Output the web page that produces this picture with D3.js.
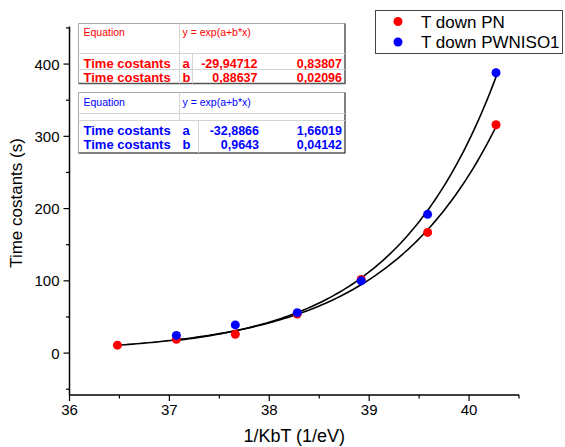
<!DOCTYPE html>
<html>
<head>
<meta charset="utf-8">
<script src="https://cdn.jsdelivr.net/npm/d3@7"></script>
<style>
  html, body { margin: 0; padding: 0; background: #fff; }
  svg { display: block; font-family: "Liberation Sans", Arial, sans-serif; }
</style>
</head>
<body>
<svg id="chart" width="565" height="447"></svg>
<script>
// ---- data ----
const xPN = [36.48, 37.07, 37.66, 38.28, 38.92, 39.585, 40.27];
const yPN = [11, 19, 26, 54, 102, 167, 316];
const xPW = [37.07, 37.66, 38.28, 38.92, 39.585, 40.27];
const yPW = [24.5, 39, 56, 100, 192, 388];
const fitPN = { a: -29.94712, b: 0.88637 };
const fitPW = { a: -32.8866, b: 0.9643 };
const xTicks = [36, 37, 38, 39, 40];
const yTicks = [0, 100, 200, 300, 400];
const seriesNames = ["T down PN", "T down PWNISO1"];
const seriesColors = ["#ff0000", "#0000ff"];
const tablePN = [
  ["Time costants", "a", "-29,94712", "0,83807"],
  ["Time costants", "b", "0,88637", "0,02096"]
];
const tablePW = [
  ["Time costants", "a", "-32,8866", "1,66019"],
  ["Time costants", "b", "0,9643", "0,04142"]
];

const svg = d3.select("#chart");
const x = d3.scaleLinear().domain([36, 40.5]).range([69.5, 519]);
const y = d3.scaleLinear().domain([-58, 452]).range([395, 26.5]);

// axes
const xAxis = svg.append("g").attr("transform", "translate(0,395)");
xAxis.append("line").attr("x1", x(36)).attr("x2", x(40.5)).attr("stroke", "#000").attr("stroke-width", 1.5);
xAxis.selectAll(".xmin").data(d3.range(36.5, 40.51, 1)).enter().append("line")
  .attr("x1", d => x(d)).attr("x2", d => x(d)).attr("y1", 0).attr("y2", 3.5)
  .attr("stroke", "#000").attr("stroke-width", 1.2);
xAxis.selectAll(".xmaj").data(xTicks).enter().append("line")
  .attr("x1", d => x(d)).attr("x2", d => x(d)).attr("y1", 0).attr("y2", 6)
  .attr("stroke", "#000").attr("stroke-width", 1.2);
xAxis.selectAll(".xlab").data(xTicks).enter().append("text")
  .attr("x", d => x(d)).attr("y", 20).attr("text-anchor", "middle")
  .attr("font-size", 15).text(d => d);

const yAxis = svg.append("g").attr("transform", "translate(69.5,0)");
yAxis.append("line").attr("y1", y(-58)).attr("y2", y(452)).attr("stroke", "#000").attr("stroke-width", 1.5);
yAxis.selectAll(".ymin").data(d3.range(-50, 452, 100)).enter().append("line")
  .attr("y1", d => y(d)).attr("y2", d => y(d)).attr("x1", 0).attr("x2", -3.5)
  .attr("stroke", "#000").attr("stroke-width", 1.2);
yAxis.selectAll(".ymaj").data(yTicks).enter().append("line")
  .attr("y1", d => y(d)).attr("y2", d => y(d)).attr("x1", 0).attr("x2", -6)
  .attr("stroke", "#000").attr("stroke-width", 1.2);
yAxis.selectAll(".ylab").data(yTicks).enter().append("text")
  .attr("x", -10).attr("y", d => y(d) + 5.5).attr("text-anchor", "end")
  .attr("font-size", 15).text(d => d);

svg.append("text").attr("x", x(38.25)).attr("y", 442).attr("text-anchor", "middle")
  .attr("font-size", 18).text("1/KbT (1/eV)");
svg.append("text").attr("transform", "translate(22,203) rotate(-90)").attr("text-anchor", "middle")
  .attr("font-size", 17).text("Time costants (s)");

// fit curves
const line = d3.line().x(d => x(d[0])).y(d => y(d[1])).curve(d3.curveLinear);
function fitPts(fit, x0, x1) {
  return d3.range(0, 101).map(i => { const xv = x0 + (x1 - x0) * i / 100; return [xv, Math.exp(fit.a + fit.b * xv)]; });
}
svg.append("path").attr("d", line(fitPts(fitPN, xPN[0], xPN[xPN.length - 1])))
  .attr("fill", "none").attr("stroke", "#000").attr("stroke-width", 1.6);
svg.append("path").attr("d", line(fitPts(fitPW, xPW[0], xPW[xPW.length - 1])))
  .attr("fill", "none").attr("stroke", "#000").attr("stroke-width", 1.6);

// points
svg.selectAll(".pn").data(xPN.map((v, i) => [v, yPN[i]])).enter().append("circle")
  .attr("cx", d => x(d[0])).attr("cy", d => y(d[1])).attr("r", 4.5).attr("fill", seriesColors[0]);
svg.selectAll(".pw").data(xPW.map((v, i) => [v, yPW[i]])).enter().append("circle")
  .attr("cx", d => x(d[0])).attr("cy", d => y(d[1])).attr("r", 4.5).attr("fill", seriesColors[1]);

// legend
const lg = svg.append("g");
lg.append("rect").attr("x", 375.5).attr("y", 10.5).attr("width", 187).attr("height", 43)
  .attr("fill", "#fff").attr("stroke", "#444").attr("stroke-width", 1);
seriesNames.forEach((n, i) => {
  lg.append("circle").attr("cx", 398).attr("cy", 21.5 + i * 20.5).attr("r", 4.5).attr("fill", seriesColors[i]);
  lg.append("text").attr("x", 421).attr("y", 27.5 + i * 20.5).attr("font-size", 17).text(n);
});

// tables
function drawTable(rows, color, t) {
  const g = svg.append("g");
  const light = "#d4d4d4";
  g.append("rect").attr("x", t.x0).attr("y", t.y0).attr("width", t.x1 - t.x0).attr("height", t.y1 - t.y0)
    .attr("fill", "#fff").attr("stroke", "none");
  const L = (x1, y1, x2, y2, c, w) => g.append("line").attr("x1", x1).attr("y1", y1).attr("x2", x2).attr("y2", y2)
    .attr("stroke", c).attr("stroke-width", w || 1);
  L(t.x0, t.y0, t.x1, t.y0, "#a8a8a8");
  L(t.x0, t.y0, t.x0, t.y1, "#a8a8a8");
  L(t.x1, t.y0, t.x1, t.y1 + 0.5, "#555", 1.5);
  L(t.x0, t.y1, t.x1, t.y1, "#555", 1.5);
  t.hlines.forEach(h => L(t.x0, h, t.x1, h, light));
  L(t.vEq, t.y0, t.vEq, t.vEqEnd, light);
  L(t.vA, t.dataTop, t.vA, t.y1, light);
  g.append("text").attr("x", t.x0 + 5).attr("y", t.eqY).attr("font-size", 10.5).attr("fill", color).text("Equation");
  g.append("text").attr("x", t.vEq + 3).attr("y", t.eqY).attr("font-size", 10.5).attr("fill", color).text("y = exp(a+b*x)");
  rows.forEach((r, i) => {
    const yy = t.rowY[i];
    const tx = (xx, s, anchor, fs) => g.append("text").attr("x", xx).attr("y", yy).attr("font-size", fs || 13)
      .attr("font-weight", "bold").attr("fill", color).attr("text-anchor", anchor || "start").text(s);
    tx(t.x0 + 5, r[0]);
    tx(t.vEq + 3, r[1]);
    tx(t.valEnd, r[2], "end", 12.5);
    tx(t.x1 - 3, r[3], "end", 12.5);
  });
}
drawTable(tablePN, seriesColors[0], {
  x0: 78.5, x1: 345, y0: 23.5, y1: 83.5, vEq: 179.5, vEqEnd: 83.5, vA: 192.5, dataTop: 53.5,
  hlines: [53.5, 69.5], eqY: 36, rowY: [67.5, 81.5], valEnd: 257.5
});
drawTable(tablePW, seriesColors[1], {
  x0: 78.5, x1: 345, y0: 92.5, y1: 153, vEq: 179.5, vEqEnd: 120.5, vA: 198.5, dataTop: 120.5,
  hlines: [113.5, 120.5], eqY: 105.5, rowY: [135, 149], valEnd: 259
});
</script>
</body>
</html>
